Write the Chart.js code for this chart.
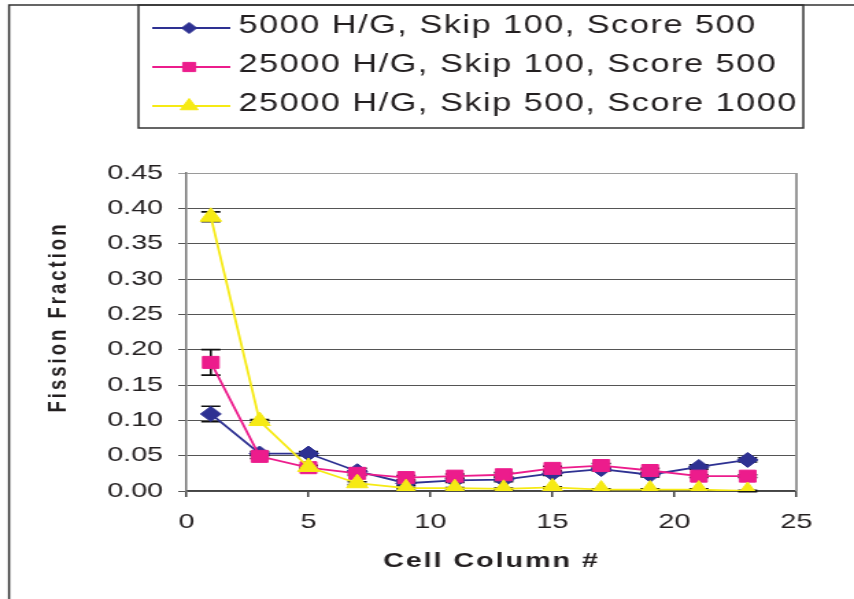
<!DOCTYPE html>
<html>
<head>
<meta charset="utf-8">
<script src="https://cdn.jsdelivr.net/npm/chart.js@4/dist/chart.umd.min.js"></script>
<style>
  html, body { margin: 0; padding: 0; background: #fff; overflow: hidden; }
  /* the figure is drawn narrow and widened, like the stretched original export */
  #wrap { width: 623px; height: 599px; transform: scaleX(1.3708); transform-origin: 0 0; }
</style>
</head>
<body>
<div id="wrap"><canvas id="chart"></canvas></div>
<script>
const cellColumns = [1, 3, 5, 7, 9, 11, 13, 15, 17, 19, 21, 23];

const seriesNames = [
  '5000 H/G, Skip 100, Score 500',
  '25000 H/G, Skip 100, Score 500',
  '25000 H/G, Skip 500, Score 1000'
];

const fracHG5000 = [0.109, 0.053, 0.053, 0.028, 0.011, 0.015, 0.016, 0.025, 0.031, 0.023, 0.034, 0.044];
const fracHG25000 = [0.182, 0.049, 0.033, 0.025, 0.019, 0.021, 0.023, 0.032, 0.036, 0.029, 0.021, 0.021];
const fracSkip500 = [0.388, 0.099, 0.034, 0.011, 0.004, 0.004, 0.003, 0.005, 0.002, 0.002, 0.002, 0.000];

const errHG5000 = [0.011, 0.003, 0.003, 0.004, 0.003, 0.003, 0.003, 0.003, 0.003, 0.003, 0.003, 0.003];
const errHG25000 = [0.018, 0.003, 0.003, 0.003, 0.003, 0.003, 0.003, 0.003, 0.003, 0.003, 0.002, 0.002];
const errSkip500 = [0.007, 0.002, 0.002, 0.002, 0.001, 0.001, 0.001, 0.001, 0.001, 0.001, 0.001, 0.001];

const yTicks = [0, 0.05, 0.10, 0.15, 0.20, 0.25, 0.30, 0.35, 0.40, 0.45];
const xTicks = [0, 5, 10, 15, 20, 25];

const FONT = "'Liberation Sans', Arial, sans-serif";
const INK = '#231f20';

const values = [fracHG5000, fracHG25000, fracSkip500];
const errors = [errHG5000, errHG25000, errSkip500];
const colors = ['#2e3192', '#ec1c8c', '#f6ea14'];
const styles = ['rectRot', 'rect', 'triangle'];
const radii = [7.5, 8.5, 9];
const legendRadii = [5.5, 6.5, 7.5];

const datasets = values.map((vals, d) => ({
  label: seriesNames[d],
  data: cellColumns.map((c, i) => ({ x: c, y: vals[i] })),
  borderColor: colors[d],
  backgroundColor: colors[d],
  borderWidth: 1.8,
  pointStyle: styles[d],
  pointRadius: radii[d],
  pointBorderWidth: 1,
  pointBackgroundColor: colors[d],
  pointBorderColor: colors[d],
  tension: 0,
  order: 3 - d
}));

// black error bars with caps, under the lines and markers
const errorBars = {
  id: 'errorBars',
  beforeDatasetsDraw(chart) {
    const { ctx, scales: { y } } = chart;
    ctx.save();
    ctx.strokeStyle = '#111';
    ctx.lineWidth = 1.6;
    chart.data.datasets.forEach((ds, d) => {
      chart.getDatasetMeta(d).data.forEach((pt, i) => {
        const v = values[d][i], e = errors[d][i];
        const top = y.getPixelForValue(v + e), bot = y.getPixelForValue(v - e);
        ctx.beginPath();
        ctx.moveTo(pt.x, top); ctx.lineTo(pt.x, bot);
        ctx.moveTo(pt.x - 7, top); ctx.lineTo(pt.x + 7, top);
        ctx.moveTo(pt.x - 7, bot); ctx.lineTo(pt.x + 7, bot);
        ctx.stroke();
      });
    });
    ctx.restore();
  }
};

// outer frame, boxed legend, axis titles
const decorations = {
  id: 'decorations',
  afterDraw(chart) {
    const { ctx, chartArea: a } = chart;
    ctx.save();

    ctx.strokeStyle = '#9a9a9a';
    ctx.lineWidth = 2;
    ctx.beginPath(); ctx.moveTo(a.right, a.top); ctx.lineTo(a.right, a.bottom); ctx.stroke();

    ctx.strokeStyle = '#333';
    ctx.lineWidth = 1.5;
    ctx.beginPath(); ctx.moveTo(6.6, 599); ctx.lineTo(6.6, 5); ctx.lineTo(623, 5); ctx.stroke();
    ctx.strokeRect(101, 5, 485, 123);

    seriesNames.forEach((name, d) => {
      const ly = 28 + d * 39;
      ctx.strokeStyle = colors[d];
      ctx.fillStyle = colors[d];
      ctx.lineWidth = 2;
      ctx.beginPath(); ctx.moveTo(111, ly); ctx.lineTo(168, ly); ctx.stroke();
      ctx.lineWidth = 1;
      Chart.helpers.drawPoint(ctx, { pointStyle: styles[d], radius: legendRadii[d], borderWidth: 1, rotation: 0 }, 138, ly);
      ctx.fillStyle = INK;
      ctx.font = `25px ${FONT}`;
      ctx.letterSpacing = '1.1px';
      ctx.textAlign = 'left';
      ctx.textBaseline = 'alphabetic';
      ctx.fillText(name, 174, 33 + d * 39);
    });

    ctx.fillStyle = INK;
    ctx.textAlign = 'center';
    ctx.textBaseline = 'middle';
    ctx.font = `bold 21px ${FONT}`;
    ctx.letterSpacing = '1.4px';
    ctx.fillText('Cell Column #', (a.left + a.right) / 2, 561);

    ctx.translate(43, 317);
    ctx.rotate(-Math.PI / 2);
    ctx.font = `bold 18.5px ${FONT}`;
    ctx.letterSpacing = '3px';
    ctx.fillText('Fission Fraction', 0, 0);
    ctx.restore();
  }
};

new Chart(document.getElementById('chart'), {
  type: 'line',
  data: { datasets },
  plugins: [errorBars, decorations],
  options: {
    responsive: true,
    maintainAspectRatio: false,
    animation: false,
    layout: { padding: { left: 0, top: 173, right: 42, bottom: 0 } },
    plugins: { legend: { display: false }, tooltip: { enabled: false } },
    scales: {
      x: {
        type: 'linear',
        min: 0, max: 25,
        afterBuildTicks: s => { s.ticks = xTicks.map(v => ({ value: v })); },
        afterFit: s => { s.height = 108; },
        grid: { drawOnChartArea: false, tickLength: 6, color: '#444', lineWidth: 1.5 },
        border: { color: '#444', width: 1.5 },
        ticks: { color: INK, font: { family: FONT, size: 21 }, padding: 13, maxRotation: 0 }
      },
      y: {
        min: 0, max: 0.45,
        afterBuildTicks: s => { s.ticks = yTicks.map(v => ({ value: v })); },
        afterFit: s => { s.width = 136; },
        grid: {
          tickLength: 6,
          lineWidth: 1,
          color: c => (c.tick && c.tick.value >= 0.449 ? '#9a9a9a' : '#555')
        },
        border: { color: '#777', width: 1.5 },
        ticks: {
          color: INK,
          font: { family: FONT, size: 21 },
          padding: 11,
          callback: v => Number(v).toFixed(2)
        }
      }
    }
  }
});
</script>
</body>
</html>
